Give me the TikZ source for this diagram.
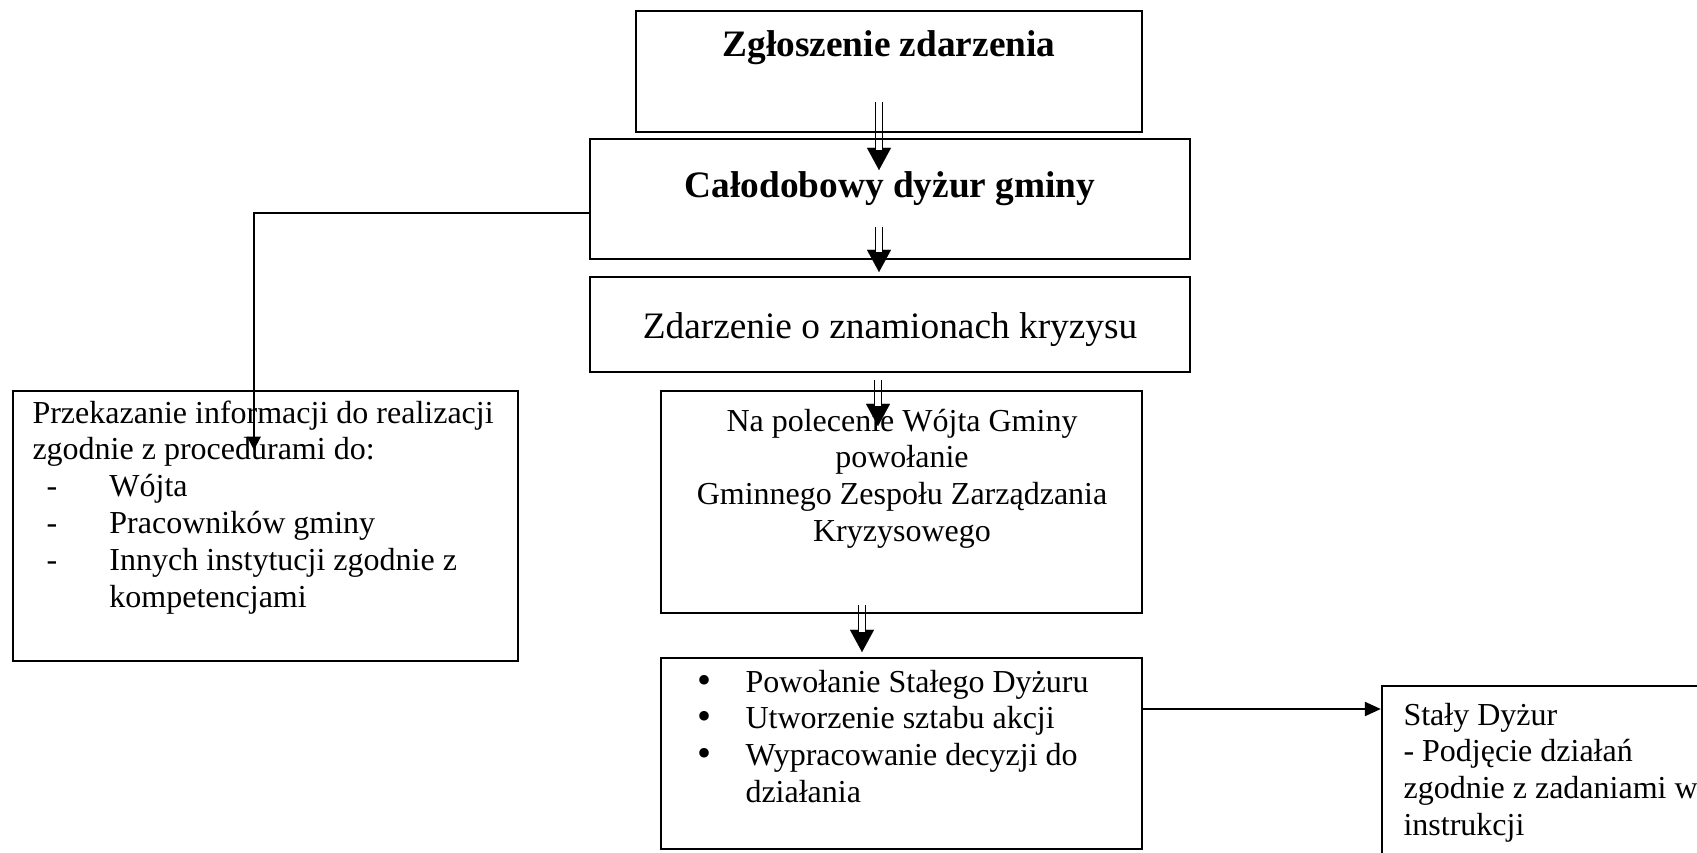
\documentclass[tikz,border=0pt]{standalone}
\usepackage{fontspec}
\setmainfont{Liberation Serif}
\usetikzlibrary{arrows.meta,fit}

% list markers
\newcommand{\dashitem}[1]{\hspace*{5.25pt}\makebox[23.6pt][l]{-}#1}
\newcommand{\bulitem}[1]{\makebox[18pt][l]{\raisebox{-0.4pt}{\fontsize{15}{0}\selectfont\textbullet}}#1}

\tikzset{
  box/.style={draw, line width=0.85pt, inner sep=0pt},
  txt/.style={inner sep=0pt, font=\fontsize{12}{13.8}\selectfont},
  bigtxt/.style={inner sep=0pt, font=\fontsize{14}{16.1}\selectfont},
  headtxt/.style={inner sep=0pt, font=\fontsize{14}{16.1}\selectfont\bfseries},
  dblshaft/.style={double, line width=0.7pt, double distance=1.9pt, shorten >=7.5pt},
  dblhead/.style={draw=white, line width=0.01pt, -{Triangle[length=8.3pt,width=9pt,color=black]}},
  conn/.style={line width=0.9pt, -{Triangle[length=6pt,width=5.2pt]}}
}

\begin{document}
\begin{tikzpicture}[x=0.375pt,y=-0.375pt]

\useasboundingbox (0,0) rectangle (1697,853);
\clip (0,0) rectangle (1697,853);

% Double arrows down the middle (drawn first, box borders go over them)
\coordinate (z1) at (879,102); \coordinate (d1) at (879,170);
\coordinate (d2) at (879,227); \coordinate (k1) at (879,272);
\coordinate (k2) at (878,380); \coordinate (g1) at (878,426);
\coordinate (g2) at (862,605); \coordinate (p1) at (862,652);
\foreach \a/\b in {z1/d1, d2/k1, k2/g1, g2/p1} {
  \draw[dblhead] (\a) -- (\b);
  \draw[dblshaft] (\a) -- (\b);
}

% Boxes
\node[box, fit={(636,11) (1142,132)}] (zgl) {};
\node[box, fit={(590,139) (1190,259)}] (dyzur) {};
\node[box, fit={(590,277) (1190,372)}] (kryzys) {};
\node[box, fit={(661,391) (1142,613)}] (zespol) {};
\node[box, fit={(661,658) (1142,849)}] (dzial) {};
\node[box, fit={(13,391) (518,661)}] (przek) {};
\node[box, fit={(1382,686) (1730,890)}] (staly) {};

% Texts
\node[headtxt, anchor=base] (zgltxt) at (889,57) {Zgłoszenie zdarzenia};
\node[headtxt, anchor=base] (dyzurtxt) at (890,197) {Całodobowy dyżur gminy};
\node[bigtxt, anchor=base] (kryzystxt) at (890,338) {Zdarzenie o znamionach kryzysu};
\node[txt, anchor=base] (zespoltxt) at (902,431) {\parbox[t]{170pt}{\centering
  Na polecenie Wójta Gminy\\ powołanie\\ Gminnego Zespołu Zarządzania\\ Kryzysowego}};
\node[txt, anchor=base west] (dzialtxt) at (697,692) {\parbox[t]{170pt}{%
  \bulitem{Powołanie Stałego Dyżuru}\\
  \bulitem{Utworzenie sztabu akcji}\\
  \bulitem{Wypracowanie decyzji do}\\
  \hspace*{18pt}działania}};
\node[txt, anchor=base west] (przektxt) at (32,423) {\parbox[t]{185pt}{%
  Przekazanie informacji do realizacji\\
  zgodnie z procedurami do:\\
  \dashitem{Wójta}\\
  \dashitem{Pracowników gminy}\\
  \dashitem{Innych instytucji zgodnie z}\\
  \hspace*{28.85pt}kompetencjami}};
\node[txt, anchor=base west] (stalytxt) at (1403,725) {\parbox[t]{130pt}{%
  Stały Dyżur\\
  - Podjęcie działań\\
  zgodnie z zadaniami w\\
  instrukcji}};

% Side connectors
\coordinate (lbend) at (254,213);
\coordinate (ltip) at (254,450);
\draw[conn, line width=0.75pt, -{Triangle[length=5pt,width=5pt]}] (dyzur.west |- lbend) -- (lbend) -- (ltip);
\coordinate (rtip) at (1382,709);
\draw[conn] (dzial.east |- rtip) -- (staly.west |- rtip);

\end{tikzpicture}
\end{document}
